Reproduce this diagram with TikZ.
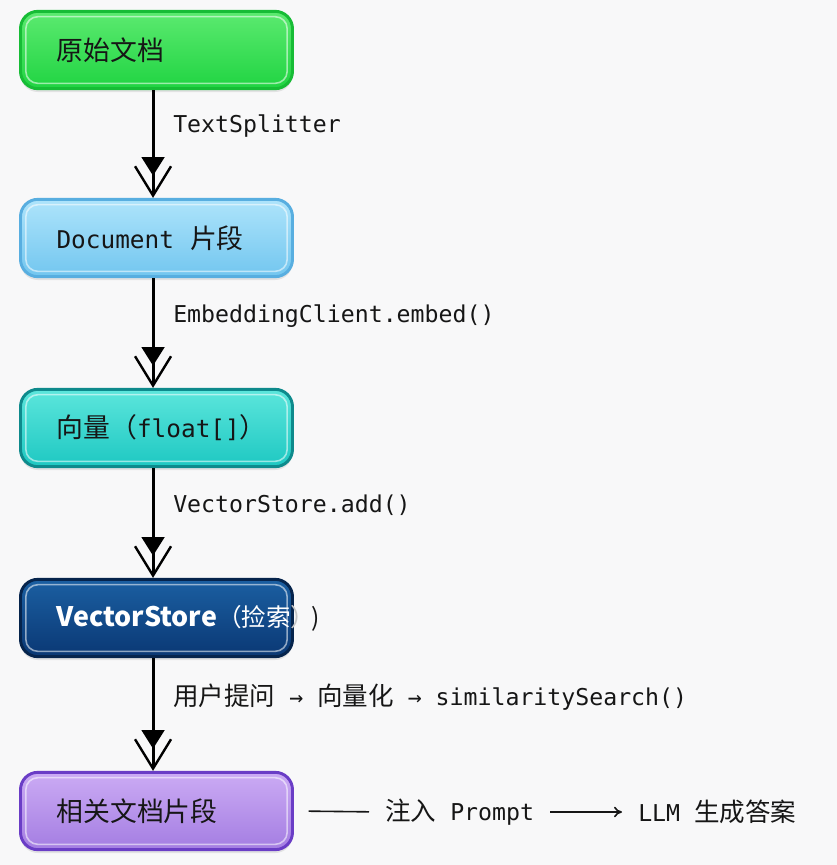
\documentclass[tikz,border=0pt]{standalone}
\usepackage{fontspec}
\setmainfont{DejaVu Sans Mono}
\newfontfamily\cjk[Scale=1.1]{Noto Sans CJK SC}
\newfontfamily\mono{DejaVu Sans Mono}
\usetikzlibrary{arrows.meta,positioning,shadows}

\definecolor{bgcol}{HTML}{F8F8F9}
\definecolor{ink}{HTML}{161616}
\definecolor{grnline}{HTML}{17BC36}
\definecolor{grntop}{HTML}{5CEA70}
\definecolor{grnbot}{HTML}{20D442}
\definecolor{bluline}{HTML}{58AEE0}
\definecolor{blutop}{HTML}{AEE4FB}
\definecolor{blubot}{HTML}{72C6EF}
\definecolor{tealline}{HTML}{0E8A8C}
\definecolor{tealtop}{HTML}{5CE6DC}
\definecolor{tealbot}{HTML}{1EC8C2}
\definecolor{navyline}{HTML}{06244C}
\definecolor{navytop}{HTML}{1B5FA2}
\definecolor{navybot}{HTML}{0A3874}
\definecolor{purpline}{HTML}{6A3DC6}
\definecolor{purptop}{HTML}{CBABF4}
\definecolor{purpbot}{HTML}{A47DE2}

\begin{document}
\begin{tikzpicture}[x=0.75pt,y=-0.75pt,
  stage/.style n args={3}{draw=#1, line width=2.2pt, top color=#2, bottom color=#3,
    rounded corners=13pt, minimum width=204pt, minimum height=58pt,
    text width=150pt, align=left, inner xsep=27pt, text=ink,
    font=\fontsize{18.3}{22}\selectfont,
    drop shadow={opacity=0.18, shadow xshift=0pt, shadow yshift=-2.5pt},
    path picture={\draw[white, opacity=0.55, line width=1.2pt, rounded corners=9pt]
      ([shift={(4pt,-4pt)}]path picture bounding box.north west) rectangle
      ([shift={(-4pt,4pt)}]path picture bounding box.south east);}},
  note/.style={inner sep=0pt, text=ink, font=\mono\fontsize{17.4}{20}\selectfont},
  flow/.style={line width=2.2pt, draw=black,
    -{Triangle[length=14pt,width=17pt,sep=-8pt] Straight Barb[length=22pt,width=27pt,line width=1.8pt]}},
  link/.style={line width=1.2pt, draw=ink}]

  \useasboundingbox[fill=bgcol] (0,0) rectangle (837,865);

  % the five stages
  \node[stage={grnline}{grntop}{grnbot}] (raw) at (156.5,50) {\cjk 原始文档};
  \node[stage={bluline}{blutop}{blubot}] (chunk) at (156.5,238) {\mono Document\hspace{12pt}\cjk 片段};
  \node[stage={tealline}{tealtop}{tealbot}] (vec) at (156.5,428) {\cjk 向量（\mono float[]\cjk ）};
  \node[stage={navyline}{navytop}{navybot}] (store) at (156.5,618)
    {\mbox{\color{white}\cjk\bfseries VectorStore\mdseries\fontsize{16.8}{20}\selectfont（捡索\color{gray!45}）\color{ink}\hspace{-3pt})}};
  \node[stage={purpline}{purptop}{purpbot}] (hits) at (156.5,811) {\cjk 相关文档片段};

  \draw[flow] ([xshift=-2.6pt]raw.south) -- ([xshift=-2.6pt]chunk.north);
  \draw[flow] ([xshift=-2.6pt]chunk.south) -- ([xshift=-2.6pt]vec.north);
  \draw[flow] ([xshift=-2.6pt]vec.south) -- ([xshift=-2.6pt]store.north);
  \draw[flow] ([xshift=-2.6pt]store.south) -- ([xshift=-2.6pt]hits.north);

  % what happens on each arrow
  \node[note, anchor=west] (split) at (173,126) {TextSplitter};
  \node[note, anchor=west] (embed) at (173,316) {EmbeddingClient.embed()};
  \node[note, anchor=west] (add) at (173,505) {VectorStore.add()};
  \node[note, anchor=west] (query) at (173,697) {{\cjk 用户提问} → {\cjk 向量化} → similaritySearch()};

  % last step
  \node[note, anchor=west] (inject) at (385,812) {{\cjk 注入} Prompt};
  \node[note, anchor=west] (llm) at (638,812) {LLM {\cjk 生成答案}};
  \draw[link, shorten <=11pt, shorten >=12pt] (hits.east) -- (inject.west);
  \draw[link, -{To[length=6pt,width=8pt]}, shorten <=12pt, shorten >=12pt] (inject.east) -- (llm.west);
\end{tikzpicture}
\end{document}
